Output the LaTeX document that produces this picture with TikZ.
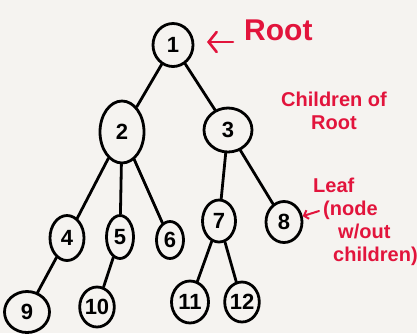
\documentclass[tikz,border=0pt]{standalone}
\usepackage{fontspec}
\setmainfont{Liberation Sans}
\usetikzlibrary{shapes.geometric,arrows.meta}
\definecolor{bg}{RGB}{245,243,240}
\definecolor{ink}{RGB}{226,20,60}
\begin{document}
\begin{tikzpicture}[x=1pt,y=-1pt,
  tn/.style={draw=black,line width=2.8pt,ellipse,inner sep=0pt,font=\bfseries\fontsize{22}{22}\selectfont},
  ed/.style={line width=2.8pt,line cap=round},
  note/.style={text=ink,font=\bfseries\fontsize{20}{23}\selectfont,align=left,inner sep=0pt},
  redarrow/.style={ink,line width=2.6pt,line cap=round,-{Straight Barb[length=8pt,width=20pt,line cap=round]}}]
\fill[bg] (0,0) rectangle (417,333);
\useasboundingbox (0,0) rectangle (417,333);
\node[tn,minimum width=40pt,minimum height=43pt] (n1) at (173,45) {1};
\node[tn,minimum width=44pt,minimum height=62pt] (n2) at (122,132) {2};
\node[tn,minimum width=48pt,minimum height=44pt] (n3) at (228,130) {3};
\node[tn,minimum width=34pt,minimum height=45pt] (n4) at (67,238) {4};
\node[tn,minimum width=27pt,minimum height=43pt] (n5) at (120,237) {5};
\node[tn,minimum width=27pt,minimum height=37pt] (n6) at (170,240) {6};
\node[tn,minimum width=33pt,minimum height=42pt] (n7) at (219,221) {7};
\node[tn,minimum width=36pt,minimum height=41pt] (n8) at (284,222) {8};
\node[tn,minimum width=45pt,minimum height=41pt] (n9) at (27,312) {9};
\node[tn,minimum width=31pt,minimum height=40pt] (n10) at (97,307) {10};
\node[tn,minimum width=37pt,minimum height=42pt] (n11) at (190,302) {11};
\node[tn,minimum width=32pt,minimum height=40pt] (n12) at (242,302) {12};
\draw[ed] (n1) -- (n2);
\draw[ed] (n1) -- (n3);
\draw[ed] (n2) -- (n4);
\draw[ed] (n2) -- (n5);
\draw[ed] (n2) -- (n6);
\draw[ed] (n3) -- (n7);
\draw[ed] (n3) -- (n8);
\draw[ed] (n4) -- (n9);
\draw[ed] (n5) -- (n10);
\draw[ed] (n7) -- (n11);
\draw[ed] (n7) -- (n12);
\node[note,font=\bfseries\fontsize{30}{30}\selectfont,anchor=west] (lroot) at (244,30) {Root};
\coordinate (rootarrowA) at (233,42);
\coordinate (rootarrowB) at (207,42);
\draw[redarrow] (rootarrowA) -- (rootarrowB);
\node[note,align=center,anchor=north] (lchild) at (334,92) {Children of\\Root};
\node[note,anchor=north west] (lleaf) at (313,178) {Leaf\\\hspace*{10pt}(node\\\hspace*{25pt}w/out\\\hspace*{20pt}children)};
\coordinate (leafarrow) at (319,211);
\draw[redarrow,line width=2pt,-{Straight Barb[length=4pt,width=9pt]}] (leafarrow) -- (n8);
\end{tikzpicture}
\end{document}
